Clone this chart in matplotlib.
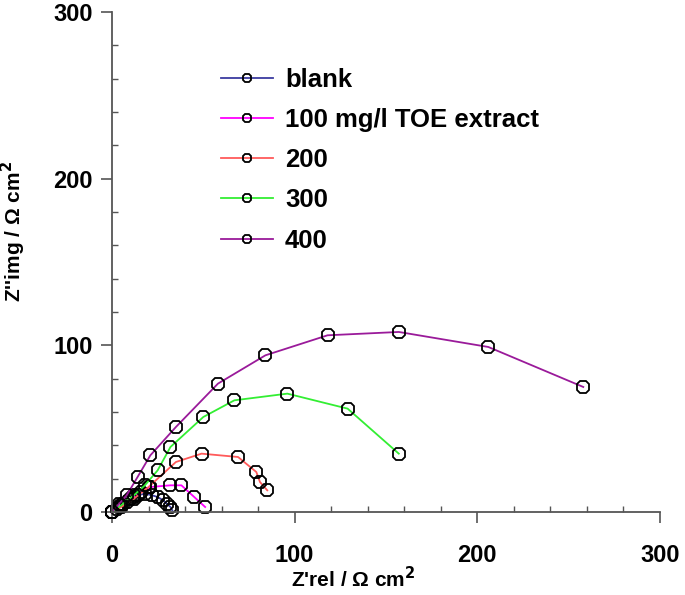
import matplotlib
matplotlib.use('Agg')
import matplotlib.pyplot as plt
from matplotlib.ticker import MultipleLocator

plt.rcParams['font.family'] = ['Liberation Sans', 'DejaVu Sans']
plt.rcParams['font.weight'] = 'bold'

#-----Data-------------------------------------------------------------------
labels = ['blank', '100 mg/l TOE extract', '200', '300', '400']
colors = ['#3c3ca0', '#ff00ff', '#ff5a5a', '#33ee33', '#9a1a9a']

blank_x = [0, 3, 6, 10, 14, 18, 22, 25, 28, 30, 32, 33]
blank_y = [0, 2, 5, 8, 10, 11, 10, 9, 7, 5, 3, 1]

tz100_x = [0, 4, 8, 12, 16, 21, 32, 38, 45, 51]
tz100_y = [0, 3, 6, 9, 12, 15, 16, 16, 9, 3]

tz200_x = [0, 5, 12, 20, 35, 49, 69, 79, 81, 85]
tz200_y = [0, 3, 8, 15, 30, 35, 33, 24, 18, 13]

tz300_x = [0, 5, 12, 18, 25, 32, 50, 67, 96, 129, 157]
tz300_y = [0, 4, 10, 16, 25, 39, 57, 67, 71, 62, 35]

tz400_x = [0, 4, 8, 14, 21, 35, 58, 84, 118, 157, 206, 258]
tz400_y = [0, 5, 10, 21, 34, 51, 77, 94, 106, 108, 99, 75]

series = [(blank_x, blank_y), (tz100_x, tz100_y), (tz200_x, tz200_y),
          (tz300_x, tz300_y), (tz400_x, tz400_y)]

#-----Figure------------------------------------------------------------------
fig = plt.figure(figsize=(6.85, 5.95), dpi=100)
ax = fig.add_axes([0.1635, 0.1395, 0.8, 0.8405])

for (x, y), c, lab in zip(series, colors, labels):
    ax.plot(x, y, color=c, lw=1.3, marker='8', ms=9.5, mfc='none',
            mec='black', mew=1.3, label=lab, clip_on=False)

ax.set_xlim(0, 300)
ax.set_ylim(0, 300)
ax.xaxis.set_major_locator(MultipleLocator(100))
ax.yaxis.set_major_locator(MultipleLocator(100))
ax.xaxis.set_minor_locator(MultipleLocator(20))
ax.yaxis.set_minor_locator(MultipleLocator(20))

for s in ['top', 'right']:
    ax.spines[s].set_visible(False)
for s in ['left', 'bottom']:
    ax.spines[s].set_color('#555555')
    ax.spines[s].set_linewidth(1.3)

ax.tick_params(which='major', direction='out', length=8, width=1.2,
               color='#555555', labelsize=17)
ax.tick_params(which='minor', direction='in', length=4, width=1.0,
               color='#555555')
ax.tick_params(axis='x', which='major', pad=15)
ax.tick_params(axis='y', which='major', pad=6)

ax.set_xlabel("Z'rel / \u03a9 cm$^\\mathbf{2}$", fontsize=15, fontweight='bold')
ax.set_ylabel("Z''img / \u03a9 cm$^\\mathbf{2}$", fontsize=15, fontweight='bold')
ax.xaxis.set_label_coords(0.44, -0.108)
ax.yaxis.set_label_coords(-0.153, 0.56)

leg = ax.legend(loc='upper left', bbox_to_anchor=(0.175, 0.914), frameon=False,
                fontsize=18.5, markerscale=0.6, handlelength=2.05,
                handletextpad=0.45, labelspacing=0.63, borderpad=0)

fig.savefig('out.png', dpi=100)
